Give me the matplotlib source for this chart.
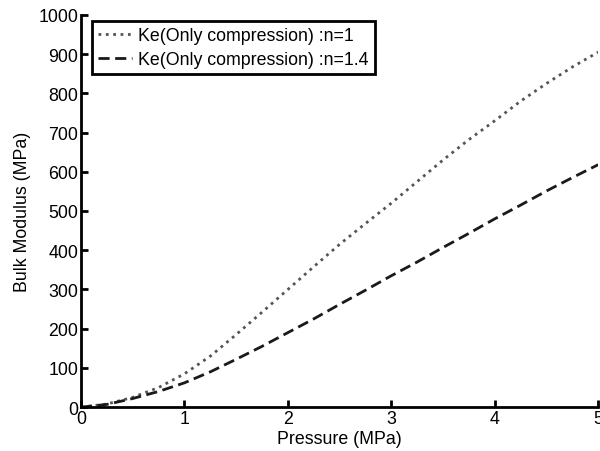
import matplotlib
matplotlib.use('Agg')
import matplotlib.pyplot as plt
import numpy as np

plt.rcParams['font.family'] = ['Liberation Sans', 'DejaVu Sans']

pressure = [0.0, 0.25, 0.5, 0.75, 1.0, 1.25, 1.5, 1.75, 2.0, 2.25, 2.5, 2.75, 3.0,
            3.25, 3.5, 3.75, 4.0, 4.25, 4.5, 4.75, 5.0]
ke_n1 = [0, 8, 25, 50, 85, 130, 185, 242, 300, 358, 415, 468, 520,
         575, 630, 682, 730, 780, 825, 867, 905]
ke_n14 = [0, 7, 22, 40, 62, 90, 122, 155, 190, 225, 262, 298, 335,
          370, 407, 443, 480, 515, 551, 585, 618]

fs = 12.8
fig = plt.figure(figsize=(6.0, 4.52), dpi=100)
ax = fig.add_axes([0.135, 0.097, 0.862, 0.868])
ax.plot(pressure, ke_n1, linestyle=':', color='#555555', linewidth=2.0, label='Ke(Only compression) :n=1')
ax.plot(pressure, ke_n14, linestyle='--', color='#1a1a1a', linewidth=2.0, dashes=(4, 2), label='Ke(Only compression) :n=1.4')
ax.set_xlim(0, 5)
ax.set_ylim(0, 1000)
ax.set_xticks(np.arange(0, 6, 1))
ax.set_yticks(np.arange(0, 1100, 100))
ax.spines['top'].set_visible(False)
ax.spines['right'].set_visible(False)
ax.spines['left'].set_linewidth(2)
ax.spines['bottom'].set_linewidth(2)
ax.tick_params(direction='in', length=5, width=2, labelsize=fs, pad=2)
ax.set_xlabel('Pressure (MPa)', fontsize=fs, labelpad=2)
ax.set_ylabel('Bulk Modulus (MPa)', fontsize=fs, labelpad=5)
leg = ax.legend(loc='upper left', fontsize=fs, fancybox=False, edgecolor='black',
                framealpha=1, handlelength=1.9, handletextpad=0.35, borderpad=0.35,
                borderaxespad=0, labelspacing=0.4, bbox_to_anchor=(0.021, 0.985))
leg.get_frame().set_linewidth(2)
fig.savefig('out.png', dpi=100)
